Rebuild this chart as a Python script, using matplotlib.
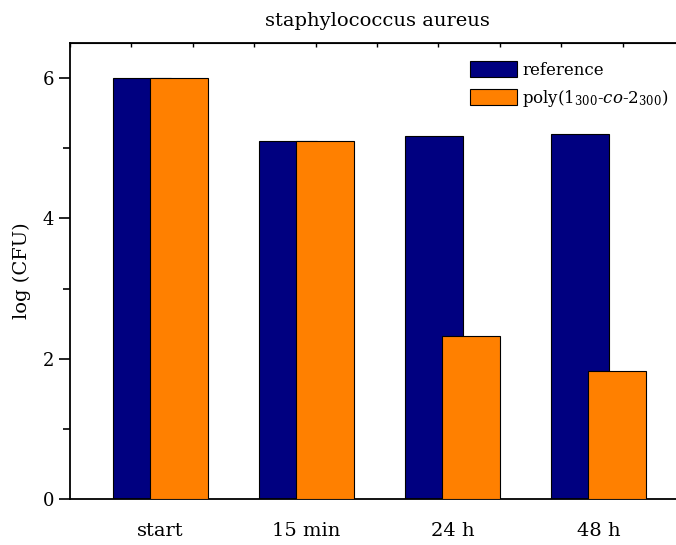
import numpy as np
import matplotlib
matplotlib.use("Agg")
import matplotlib.pyplot as plt

plt.rcParams['font.family'] = ['DejaVu Serif']
plt.rcParams['mathtext.fontset'] = 'dejavuserif'

categories = ['start', '15 min', '24 h', '48 h']
reference = [6.00, 5.11, 5.17, 5.20]
polymer = [6.00, 5.11, 2.33, 1.83]

fig = plt.figure(figsize=(6.76, 5.45), dpi=100)
# axes runs slightly past the right edge, like the cropped original
ax = fig.add_axes([0.1036, 0.0844, 0.9084, 0.8367])

x = np.arange(1, len(categories) + 1)
w = 0.4
ax.bar(x - 0.127, reference, w, color='#000080', edgecolor='black', linewidth=0.8,
       label='reference', zorder=2)
ax.bar(x + 0.127, polymer, w, color='#FF8000', edgecolor='black', linewidth=0.8,
       label=r'poly(1$_{300}$-$co$-2$_{300}$)', zorder=3)

ax.set_xlim(0.38, 4.585)
ax.set_ylim(0, 6.5)
ax.set_xticks(x)
ax.set_xticklabels(categories, fontsize=14)
ax.tick_params(axis='x', bottom=False, pad=13)
ax.set_yticks([0, 2, 4, 6])
ax.set_yticks([1, 3, 5], minor=True)
ax.tick_params(axis='y', which='major', direction='out', length=8, width=1.2, labelsize=13)
ax.tick_params(axis='y', which='minor', direction='out', length=5, width=1.2)

# small ticks along the top edge
top = ax.secondary_xaxis('top')
top.set_xticks(np.linspace(0.38, 4.585, 11))
top.set_xticklabels([])
top.tick_params(direction='in', length=3, width=1)

for s in ax.spines.values():
    s.set_linewidth(1.3)

ax.set_ylabel('log (CFU)', fontsize=14, labelpad=8)
ax.set_title('staphylococcus aureus', fontsize=14, pad=12)

ax.legend(loc='upper left', bbox_to_anchor=(0.652, 0.96), frameon=False, fontsize=12,
          handlelength=2.8, handleheight=1.05, handletextpad=0.3, labelspacing=0.55,
          borderpad=0, borderaxespad=0)

fig.savefig('out.png', dpi=100)
